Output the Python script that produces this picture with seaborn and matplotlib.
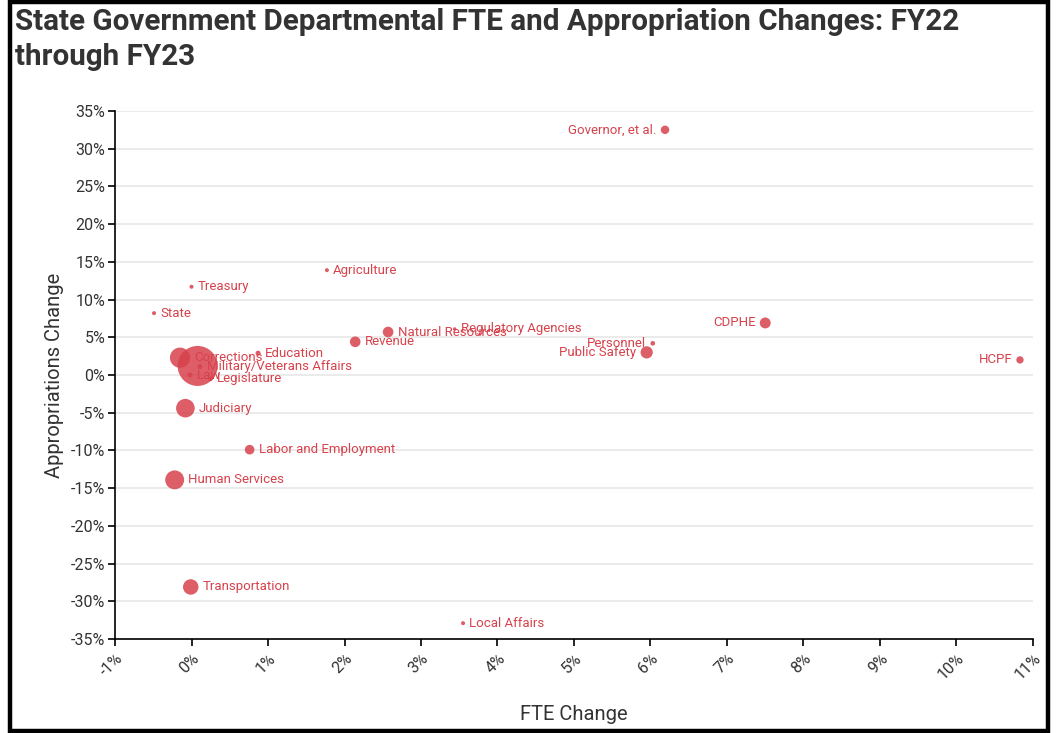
import numpy as np
import pandas as pd
import matplotlib.pyplot as plt
from matplotlib.patches import Rectangle
from matplotlib.ticker import FuncFormatter, MultipleLocator
import seaborn as sns

# === DATA ===
departments = [
    "Governor, et al.", "Agriculture", "Treasury", "State", "Natural Resources",
    "Regulatory Agencies", "Revenue", "CDPHE", "Personnel", "Public Safety",
    "HCPF", "Education", "Higher Education", "Corrections", "Military/Veterans Affairs",
    "Law", "Legislature", "Judiciary", "Labor and Employment", "Human Services",
    "Transportation", "Local Affairs",
]
fte_change = [6.19, 1.77, 0.0, -0.49, 2.57,
              3.44, 2.14, 7.50, 6.03, 5.95,
              10.83, 0.87, 0.08, -0.15, 0.11,
              -0.02, 0.25, -0.08, 0.76, -0.22,
              -0.01, 3.55]
approp_change = [32.5, 13.9, 11.7, 8.2, 5.7,
                 6.1, 4.4, 6.9, 4.2, 3.0,
                 2.0, 2.9, 1.2, 2.3, 1.1,
                 0.0, -0.5, -4.4, -9.9, -13.9,
                 -28.1, -32.9]
fte_total = [1200, 270, 270, 270, 1900,
             200, 1900, 2000, 360, 2500,
             900, 420, 26800, 6800, 400,
             420, 350, 5800, 1550, 6000,
             4000, 270]
# labels drawn on the left of their dot
left_labels = ["Governor, et al.", "CDPHE", "Personnel", "Public Safety", "HCPF"]
# the biggest bubble's label is buried under the others in the reference
hidden_labels = ["Higher Education"]

df = pd.DataFrame({"dept": departments, "fte": fte_change,
                   "approp": approp_change, "total": fte_total})

RED = "#d7424c"
DARK = "#333333"
SIZE_MAX = 830

sns.set_theme(style="white")
plt.rcParams["font.family"] = ["Roboto", "DejaVu Sans"]

fig = plt.figure(figsize=(10.6, 7.33), dpi=100)
ax = fig.add_axes([0.1085, 0.1282, 0.866, 0.7204])

sns.scatterplot(data=df.sort_values("total", ascending=False), x="fte", y="approp",
                size="total", sizes=(0, SIZE_MAX), size_norm=(0, max(fte_total)),
                color=RED, alpha=0.85, edgecolor="none", linewidth=0,
                legend=False, ax=ax, zorder=3)

# point labels
for _, row in df.iterrows():
    if row["dept"] in hidden_labels:
        continue
    s = SIZE_MAX * row["total"] / max(fte_total)
    off = np.sqrt(s) / 2 + 3
    if row["dept"] in left_labels:
        ax.annotate(row["dept"], (row["fte"], row["approp"]), xytext=(-off, 0),
                    textcoords="offset points", ha="right", va="center",
                    fontsize=9.5, color=RED, zorder=4)
    else:
        ax.annotate(row["dept"], (row["fte"], row["approp"]), xytext=(off, 0),
                    textcoords="offset points", ha="left", va="center",
                    fontsize=9.5, color=RED, zorder=4)

# axes
ax.set_xlim(-1, 11)
ax.set_ylim(-35, 35)
ax.xaxis.set_major_locator(MultipleLocator(1))
ax.yaxis.set_major_locator(MultipleLocator(5))
pct = FuncFormatter(lambda v, p: f"{v:.0f}%")
ax.xaxis.set_major_formatter(pct)
ax.yaxis.set_major_formatter(pct)

ax.grid(axis="y", color="#e6e6e6", linewidth=1.1, zorder=0)
ax.grid(axis="x", visible=False)
for side in ["top", "right"]:
    ax.spines[side].set_visible(False)
for side in ["left", "bottom"]:
    ax.spines[side].set_color("black")
    ax.spines[side].set_linewidth(1.2)

ax.tick_params(axis="both", direction="out", length=5, width=1.2, color="black",
               labelsize=11.5, labelcolor=DARK, left=True, bottom=True)
ax.tick_params(axis="y", pad=2)
plt.setp(ax.get_xticklabels(), rotation=45, ha="right", rotation_mode="anchor")

ax.set_xlabel("FTE Change", fontsize=14.5, color=DARK, labelpad=16)
ax.set_ylabel("Appropriations Change", fontsize=14.5, color=DARK, labelpad=5)

# title
fig.text(15 / 1060, 1 - 8 / 733,
         "State Government Departmental FTE and Appropriation Changes: FY22\nthrough FY23",
         ha="left", va="top", fontsize=21.3, fontweight="bold", color=DARK,
         linespacing=1.32)

# black frame around the chart
fig.patches.append(Rectangle((9.5 / 1060, 2 / 733), 1038 / 1060, 729 / 733,
                             transform=fig.transFigure, fill=False,
                             edgecolor="black", linewidth=3.2))

fig.savefig("out.png", dpi=100)
